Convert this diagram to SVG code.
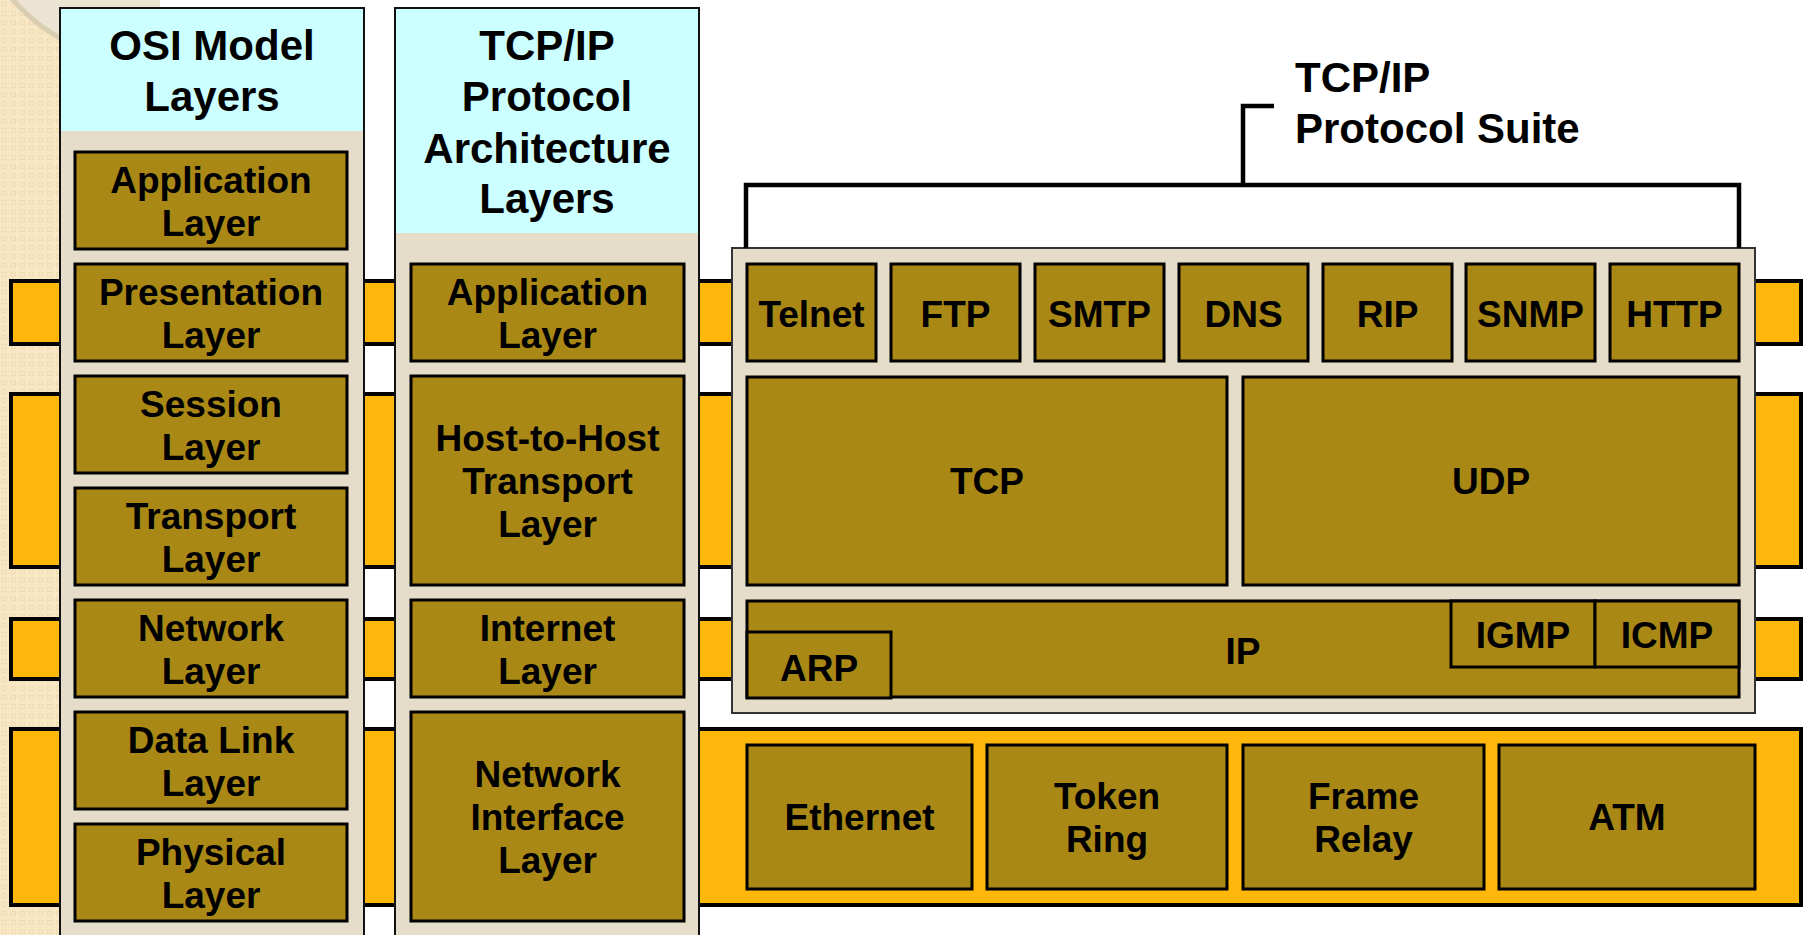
<svg xmlns="http://www.w3.org/2000/svg" width="1810" height="935" viewBox="0 0 1810 935">
<style>
  text { font-family: "Liberation Sans", Arial, sans-serif; font-weight: bold; fill: #000; text-anchor: middle; }
  .hdr { font-size: 42px; }
  .lbl { font-size: 37px; }
  .band { fill: #FFB70B; stroke: #000; stroke-width: 4; }
  .col { fill: #E5DDC9; stroke: #111; stroke-width: 2; }
  .head { fill: #CCFFFF; }
  .box { fill: #A98816; stroke: #000; stroke-width: 3; }
  .suite { fill: #E5DDC9; stroke: #333; stroke-width: 2; }
  .line { fill: none; stroke: #000; stroke-width: 4.5; }
</style>
<defs>
  <pattern id="chk" width="9" height="9" patternUnits="userSpaceOnUse">
    <rect width="9" height="9" fill="#F7E7C4"/>
    <rect x="2" y="2" width="5" height="5" fill="#F0DCB0"/>
    <rect x="3" y="3" width="3" height="3" fill="#F7E7C4"/>
  </pattern>
  <clipPath id="bgclip"><rect x="0" y="0" width="160" height="935"/></clipPath>
</defs>

<rect width="1810" height="935" fill="#FFFFFF"/>
<g id="background">
  <rect x="0" y="0" width="62" height="935" fill="url(#chk)"/>
  <g clip-path="url(#bgclip)">
    <circle cx="150" cy="-120" r="182" fill="#ECE4D2" stroke="#D9CDB2" stroke-width="5"/>
  </g>
</g>

<g id="bands">
  <rect class="band" x="11" y="281" width="1790" height="63"/>
  <rect class="band" x="11" y="394" width="1790" height="173"/>
  <rect class="band" x="11" y="619" width="1790" height="60"/>
  <rect class="band" x="11" y="729" width="1790" height="176" stroke-width="5"/>
</g>

<g id="osi-column">
  <rect class="col" x="60" y="8" width="304" height="940"/>
  <rect class="head" x="61" y="9" width="302" height="122"/>
  <text class="hdr" x="212" y="60">OSI Model</text>
  <text class="hdr" x="212" y="111">Layers</text>
</g>

<g id="osi-application">
  <rect class="box" x="75" y="152" width="272" height="97"/>
  <text class="lbl" x="211" y="192.5">Application</text>
  <text class="lbl" x="211" y="235.5">Layer</text>
</g>
<g id="osi-presentation">
  <rect class="box" x="75" y="264" width="272" height="97"/>
  <text class="lbl" x="211" y="304.5">Presentation</text>
  <text class="lbl" x="211" y="347.5">Layer</text>
</g>
<g id="osi-session">
  <rect class="box" x="75" y="376" width="272" height="97"/>
  <text class="lbl" x="211" y="416.5">Session</text>
  <text class="lbl" x="211" y="459.5">Layer</text>
</g>
<g id="osi-transport">
  <rect class="box" x="75" y="488" width="272" height="97"/>
  <text class="lbl" x="211" y="528.5">Transport</text>
  <text class="lbl" x="211" y="571.5">Layer</text>
</g>
<g id="osi-network">
  <rect class="box" x="75" y="600" width="272" height="97"/>
  <text class="lbl" x="211" y="640.5">Network</text>
  <text class="lbl" x="211" y="683.5">Layer</text>
</g>
<g id="osi-datalink">
  <rect class="box" x="75" y="712" width="272" height="97"/>
  <text class="lbl" x="211" y="752.5">Data Link</text>
  <text class="lbl" x="211" y="795.5">Layer</text>
</g>
<g id="osi-physical">
  <rect class="box" x="75" y="824" width="272" height="97"/>
  <text class="lbl" x="211" y="864.5">Physical</text>
  <text class="lbl" x="211" y="907.5">Layer</text>
</g>

<g id="tcpip-column">
  <rect class="col" x="395" y="8" width="304" height="940"/>
  <rect class="head" x="396" y="9" width="302" height="224"/>
  <text class="hdr" x="547" y="60">TCP/IP</text>
  <text class="hdr" x="547" y="111">Protocol</text>
  <text class="hdr" x="547" y="163">Architecture</text>
  <text class="hdr" x="547" y="213">Layers</text>
</g>
<g id="tcpip-application">
  <rect class="box" x="411" y="264" width="273" height="97"/>
  <text class="lbl" x="547.5" y="304.5">Application</text>
  <text class="lbl" x="547.5" y="347.5">Layer</text>
</g>
<g id="tcpip-transport">
  <rect class="box" x="411" y="376" width="273" height="209"/>
  <text class="lbl" x="547.5" y="450.5">Host-to-Host</text>
  <text class="lbl" x="547.5" y="493.5">Transport</text>
  <text class="lbl" x="547.5" y="536.5">Layer</text>
</g>
<g id="tcpip-internet">
  <rect class="box" x="411" y="600" width="273" height="97"/>
  <text class="lbl" x="547.5" y="640.5">Internet</text>
  <text class="lbl" x="547.5" y="683.5">Layer</text>
</g>
<g id="tcpip-netif">
  <rect class="box" x="411" y="712" width="273" height="209"/>
  <text class="lbl" x="547.5" y="786.5">Network</text>
  <text class="lbl" x="547.5" y="829.5">Interface</text>
  <text class="lbl" x="547.5" y="872.5">Layer</text>
</g>

<g id="suite-box">
  <rect class="suite" x="732" y="248" width="1023" height="465"/>
</g>

<g id="connectors">
  <path class="line" d="M746,248 V185 H1739 V248"/>
  <path class="line" d="M1243,185 V106 H1274"/>
</g>

<g id="suite-label">
  <text class="hdr" x="1295" y="92" style="text-anchor:start">TCP/IP</text>
  <text class="hdr" x="1295" y="143" style="text-anchor:start">Protocol Suite</text>
</g>

<g id="telnet"><rect class="box" x="747" y="264" width="129" height="97"/><text class="lbl" x="811.5" y="327">Telnet</text></g>
<g id="ftp"><rect class="box" x="891" y="264" width="129" height="97"/><text class="lbl" x="955.5" y="327">FTP</text></g>
<g id="smtp"><rect class="box" x="1035" y="264" width="129" height="97"/><text class="lbl" x="1099.5" y="327">SMTP</text></g>
<g id="dns"><rect class="box" x="1179" y="264" width="129" height="97"/><text class="lbl" x="1243.5" y="327">DNS</text></g>
<g id="rip"><rect class="box" x="1323" y="264" width="129" height="97"/><text class="lbl" x="1387.5" y="327">RIP</text></g>
<g id="snmp"><rect class="box" x="1466" y="264" width="129" height="97"/><text class="lbl" x="1530.5" y="327">SNMP</text></g>
<g id="http"><rect class="box" x="1610" y="264" width="129" height="97"/><text class="lbl" x="1674.5" y="327">HTTP</text></g>

<g id="tcp"><rect class="box" x="747" y="377" width="480" height="208"/><text class="lbl" x="987" y="494">TCP</text></g>
<g id="udp"><rect class="box" x="1243" y="377" width="496" height="208"/><text class="lbl" x="1491" y="494">UDP</text></g>

<g id="ip"><rect class="box" x="747" y="601" width="992" height="96"/><text class="lbl" x="1243" y="664">IP</text></g>
<g id="igmp"><rect class="box" x="1451" y="601" width="144" height="66"/><text class="lbl" x="1523" y="648">IGMP</text></g>
<g id="icmp"><rect class="box" x="1595" y="601" width="144" height="66"/><text class="lbl" x="1667" y="648">ICMP</text></g>
<g id="arp"><rect class="box" x="747" y="632" width="144" height="66" stroke-width="3.5"/><text class="lbl" x="819" y="681">ARP</text></g>

<g id="ethernet"><rect class="box" x="747" y="745" width="225" height="144"/><text class="lbl" x="859.5" y="830">Ethernet</text></g>
<g id="token-ring"><rect class="box" x="987" y="745" width="240" height="144"/><text class="lbl" x="1107" y="809">Token</text><text class="lbl" x="1107" y="852">Ring</text></g>
<g id="frame-relay"><rect class="box" x="1243" y="745" width="241" height="144"/><text class="lbl" x="1363.5" y="809">Frame</text><text class="lbl" x="1363.5" y="852">Relay</text></g>
<g id="atm"><rect class="box" x="1499" y="745" width="256" height="144"/><text class="lbl" x="1627" y="830">ATM</text></g>
</svg>
